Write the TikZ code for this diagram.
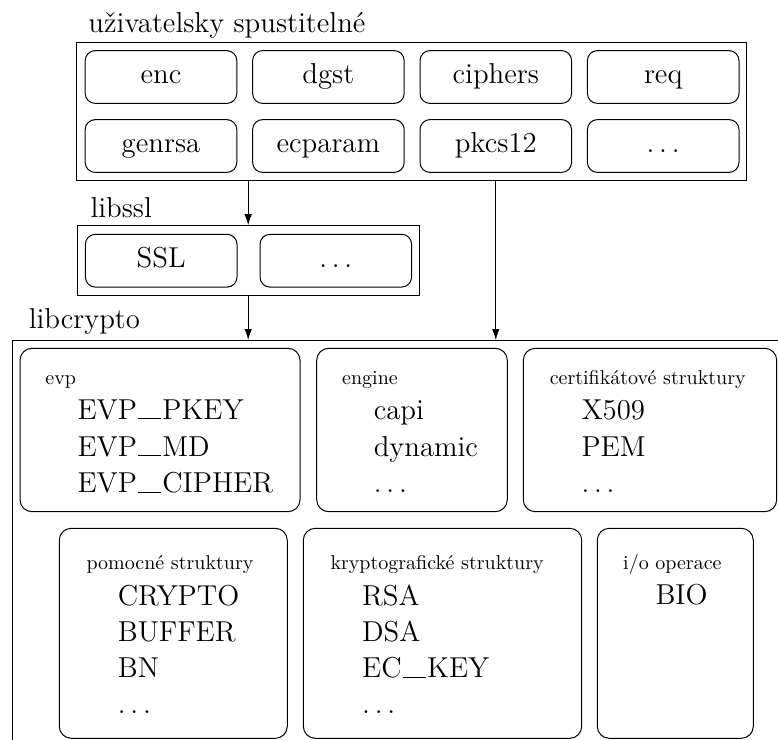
\documentclass[tikz,border=0pt]{standalone}
\usetikzlibrary{arrows.meta}
% wide underscore resting on the baseline
\newcommand\usc{\kern0.04em\rule{0.8em}{0.45pt}\kern0.04em}
% spaced ellipsis
\newcommand\etc{\mbox{$\ldots$}}

\begin{document}
\begin{tikzpicture}[x=0.5pt,y=-0.5pt,line width=0.5pt,
  frame/.style={draw, rectangle, inner sep=0pt},
  cmdbox/.style={draw, rounded corners=5pt, minimum width=75.8pt, minimum height=26.4pt,
    inner sep=0pt, font=\Large, text height=10pt, text depth=3.7pt},
  grp/.style={draw, rounded corners=6pt, inner sep=0pt},
  title/.style={anchor=base west, inner sep=0pt, font=\Large},
  small/.style={anchor=base west, inner sep=0pt, font=\normalsize},
  entry/.style={anchor=base west, inner sep=0pt, font=\Large},
  arr/.style={-{Latex[length=5.5pt,width=3.8pt]}}]
\useasboundingbox (0,0) rectangle (778,740);
\clip (0,0) rectangle (778,740);

% user-level commands
\node[frame, minimum width=335pt, minimum height=69pt] (user) at (411.7,111.3) {};
\node[title] (userT) at (88,32.3) {uživatelsky spustitelné};
\foreach \name/\txt/\cx/\cy in {enc/enc/161/77, dgst/dgst/328.4/77, ciphers/ciphers/495.8/77,
    req/req/663.2/77, genrsa/genrsa/161/146, ecparam/ecparam/328.4/146,
    pkcs/pkcs12/495.8/146, more/\etc/663.2/146}
  \node[cmdbox] (\name) at (\cx,\cy) {\txt};

% libssl
\node[frame, minimum width=170.8pt, minimum height=34.8pt] (libssl) at (248.2,260.5) {};
\node[title] (libsslT) at (90,217.7) {libssl};
\node[cmdbox] (ssl) at (161.2,260.7) {SSL};
\node[cmdbox] (sslmore) at (335.8,260.7) {\etc};

% libcrypto (continues past the page edges)
\node[frame, anchor=north west, minimum width=420pt, minimum height=220pt] (libcrypto) at (11.7,340) {};
\node[title] (libcryptoT) at (28.3,328.3) {libcrypto};

% dependencies
\draw[arr] (user.south -| libssl.north) -- (libssl.north);
\draw[arr] (libssl.south) -- (libssl.south |- libcrypto.north);
\draw[arr] (user.south -| pkcs) -- (pkcs |- libcrypto.north);

% libcrypto, first row
\node[grp, minimum width=140pt, minimum height=81.7pt] (evp) at (160,430) {};
\node[grp, minimum width=95.3pt, minimum height=81.7pt] (engine) at (412,430) {};
\node[grp, minimum width=126.7pt, minimum height=81.7pt] (cert) at (650,430) {};
\node[small] (evpT) at (45,384) {evp};
\node[small] (engineT) at (341.7,384) {engine};
\node[small] (certT) at (549.3,384) {certifikátové struktury};
\foreach \t [count=\i] in {EVP\usc PKEY, EVP\usc MD, EVP\usc CIPHER}
  \node[entry] (evp-\i) at (77,{419.3+36.7*(\i-1)}) {\t};
\foreach \t [count=\i] in {capi, dynamic, \etc}
  \node[entry] (engine-\i) at (373.3,{419.3+36.7*(\i-1)}) {\t};
\foreach \t [count=\i] in {X509, PEM, \etc}
  \node[entry] (cert-\i) at (581,{419.3+36.7*(\i-1)}) {\t};

% libcrypto, second row
\node[grp, minimum width=114pt, minimum height=105pt] (aux) at (173.3,633.3) {};
\node[grp, minimum width=139.2pt, minimum height=105pt] (crypt) at (442.5,633.3) {};
\node[grp, minimum width=78pt, minimum height=105pt] (io) at (675.3,633.3) {};
\node[small] (auxT) at (86,569.3) {pomocné struktury};
\node[small] (cryptT) at (330,569.3) {kryptografické struktury};
\node[small] (ioT) at (622.7,569.3) {i/o operace};
\foreach \t [count=\i] in {CRYPTO, BUFFER, BN, \etc}
  \node[entry] (aux-\i) at (117.3,{605+36.2*(\i-1)}) {\t};
\foreach \t [count=\i] in {RSA, DSA, EC\usc KEY, \etc}
  \node[entry] (crypt-\i) at (361.7,{605+36.2*(\i-1)}) {\t};
\node[entry] (io-1) at (655,604) {BIO};
\end{tikzpicture}
\end{document}
